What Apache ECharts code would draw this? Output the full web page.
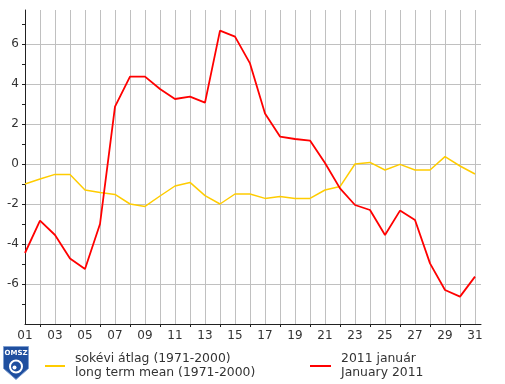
<!DOCTYPE html>
<html>
<head>
<meta charset="utf-8">
<script src="https://cdn.jsdelivr.net/npm/echarts@6/dist/echarts.min.js"></script>
<style>
  html, body { margin: 0; padding: 0; background: #fff; }
  #main { width: 505px; height: 384px; }
</style>
</head>
<body>
<div id="main"></div>
<script>
// days of January
var days = [];
for (var d = 1; d <= 31; d++) days.push(d);

// long term mean (1971-2000), daily mean temperature
var meanTemp = [-1.0, -0.75, -0.52, -0.52, -1.3, -1.43, -1.52, -2.0, -2.12, -1.6,
  -1.1, -0.92, -1.58, -2.0, -1.5, -1.5, -1.72, -1.63, -1.72, -1.72,
  -1.3, -1.13, 0.0, 0.08, -0.3, -0.02, -0.3, -0.3, 0.37, -0.1, -0.5];

// January 2011
var jan2011 = [-4.45, -2.83, -3.55, -4.72, -5.25, -3.0, 2.87, 4.37, 4.37, 3.75,
  3.25, 3.37, 3.07, 6.67, 6.37, 5.03, 2.53, 1.37, 1.25, 1.17,
  0.05, -1.22, -2.05, -2.3, -3.55, -2.33, -2.8, -4.97, -6.3, -6.63, -5.63];

var xLabelDays = [1, 3, 5, 7, 9, 11, 13, 15, 17, 19, 21, 23, 25, 27, 29, 31];
var xTickDays = [2, 4, 6, 8, 10, 12, 14, 16, 18, 20, 22, 24, 26, 28, 30];
var yLabelValues = [-6, -4, -2, 0, 2, 4, 6];
var yTickValues = [-7, -6, -5, -4, -3, -2, -1, 0, 1, 2, 3, 4, 5, 6, 7];

var nameMean = 'sokévi átlag (1971-2000)\nlong term mean (1971-2000)';
var nameJan = '2011 január\nJanuary 2011';

var font = 'DejaVu Sans';
var myChart = echarts.init(document.getElementById('main'));

function pairs(vals) {
  return vals.map(function (v, i) { return [days[i], v]; });
}

var legendText = { color: '#333', fontSize: 12.4, fontFamily: font, lineHeight: 14, padding: [0, 0, 0, 5] };

var option = {
  animation: false,
  textStyle: { fontFamily: font },
  grid: { left: 25, top: 10, right: 24, bottom: 60, containLabel: false },
  xAxis: [
    {
      type: 'value', min: 1, max: 31.4, interval: 1,
      axisLine: { show: false },
      axisTick: { show: false },
      axisLabel: { show: false },
      splitLine: { show: true, showMaxLine: false, lineStyle: { color: '#c0c0c0', width: 1 } }
    },
    {
      type: 'value', min: 1, max: 31.4, position: 'bottom',
      axisLine: { show: true, onZero: false, lineStyle: { color: '#222', width: 1 } },
      axisTick: { show: true, length: 3, customValues: xTickDays, lineStyle: { color: '#222' } },
      axisLabel: {
        customValues: xLabelDays, color: '#333', fontSize: 12, fontFamily: font, margin: 6,
        formatter: function (v) { return (v < 10 ? '0' : '') + v; }
      },
      splitLine: { show: false }
    }
  ],
  yAxis: [
    {
      type: 'value', min: -8, max: 7.7, interval: 2,
      axisLine: { show: false },
      axisTick: { show: false },
      axisLabel: { show: false },
      splitLine: { show: true, showMaxLine: false, showMinLine: false, lineStyle: { color: '#c0c0c0', width: 1 } }
    },
    {
      type: 'value', min: -8, max: 7.7, position: 'left',
      axisLine: { show: true, onZero: false, lineStyle: { color: '#222', width: 1 } },
      axisTick: { show: true, length: 3, customValues: yTickValues, lineStyle: { color: '#222' } },
      axisLabel: { customValues: yLabelValues, color: '#333', fontSize: 12, fontFamily: font, margin: 6 },
      splitLine: { show: false }
    }
  ],
  legend: [
    {
      data: [nameMean], left: 40, top: 347, icon: 'rect', itemWidth: 20, itemHeight: 2,
      textStyle: legendText
    },
    {
      data: [nameJan], left: 305, top: 347, icon: 'rect', itemWidth: 21, itemHeight: 2,
      textStyle: legendText
    }
  ],
  series: [
    {
      name: nameMean, type: 'line', data: pairs(meanTemp), symbol: 'none',
      itemStyle: { color: '#ffcc00' },
      lineStyle: { color: '#ffcc00', width: 1.5 }
    },
    {
      name: nameJan, type: 'line', data: pairs(jan2011), symbol: 'none',
      itemStyle: { color: '#ff0000' },
      lineStyle: { color: '#ff0000', width: 1.8 }
    }
  ],
  graphic: [
    {
      type: 'group', left: 3, top: 346,
      children: [
        { type: 'polygon', shape: { points: [[0, 0], [25, 0], [25, 22], [12.5, 33], [0, 22]] },
          style: { fill: '#1f4f9f', stroke: '#7f9fd0', lineWidth: 1 } },
        { type: 'text', x: 12.5, y: 3, style: { text: 'OMSZ', fill: '#fff', font: 'bold 7px DejaVu Sans', align: 'center' } },
        { type: 'circle', shape: { cx: 12.5, cy: 20, r: 6 }, style: { fill: 'none', stroke: '#fff', lineWidth: 2 } },
        { type: 'circle', shape: { cx: 11, cy: 21, r: 2 }, style: { fill: '#fff' } }
      ]
    }
  ]
};

myChart.setOption(option);
</script>
</body>
</html>
